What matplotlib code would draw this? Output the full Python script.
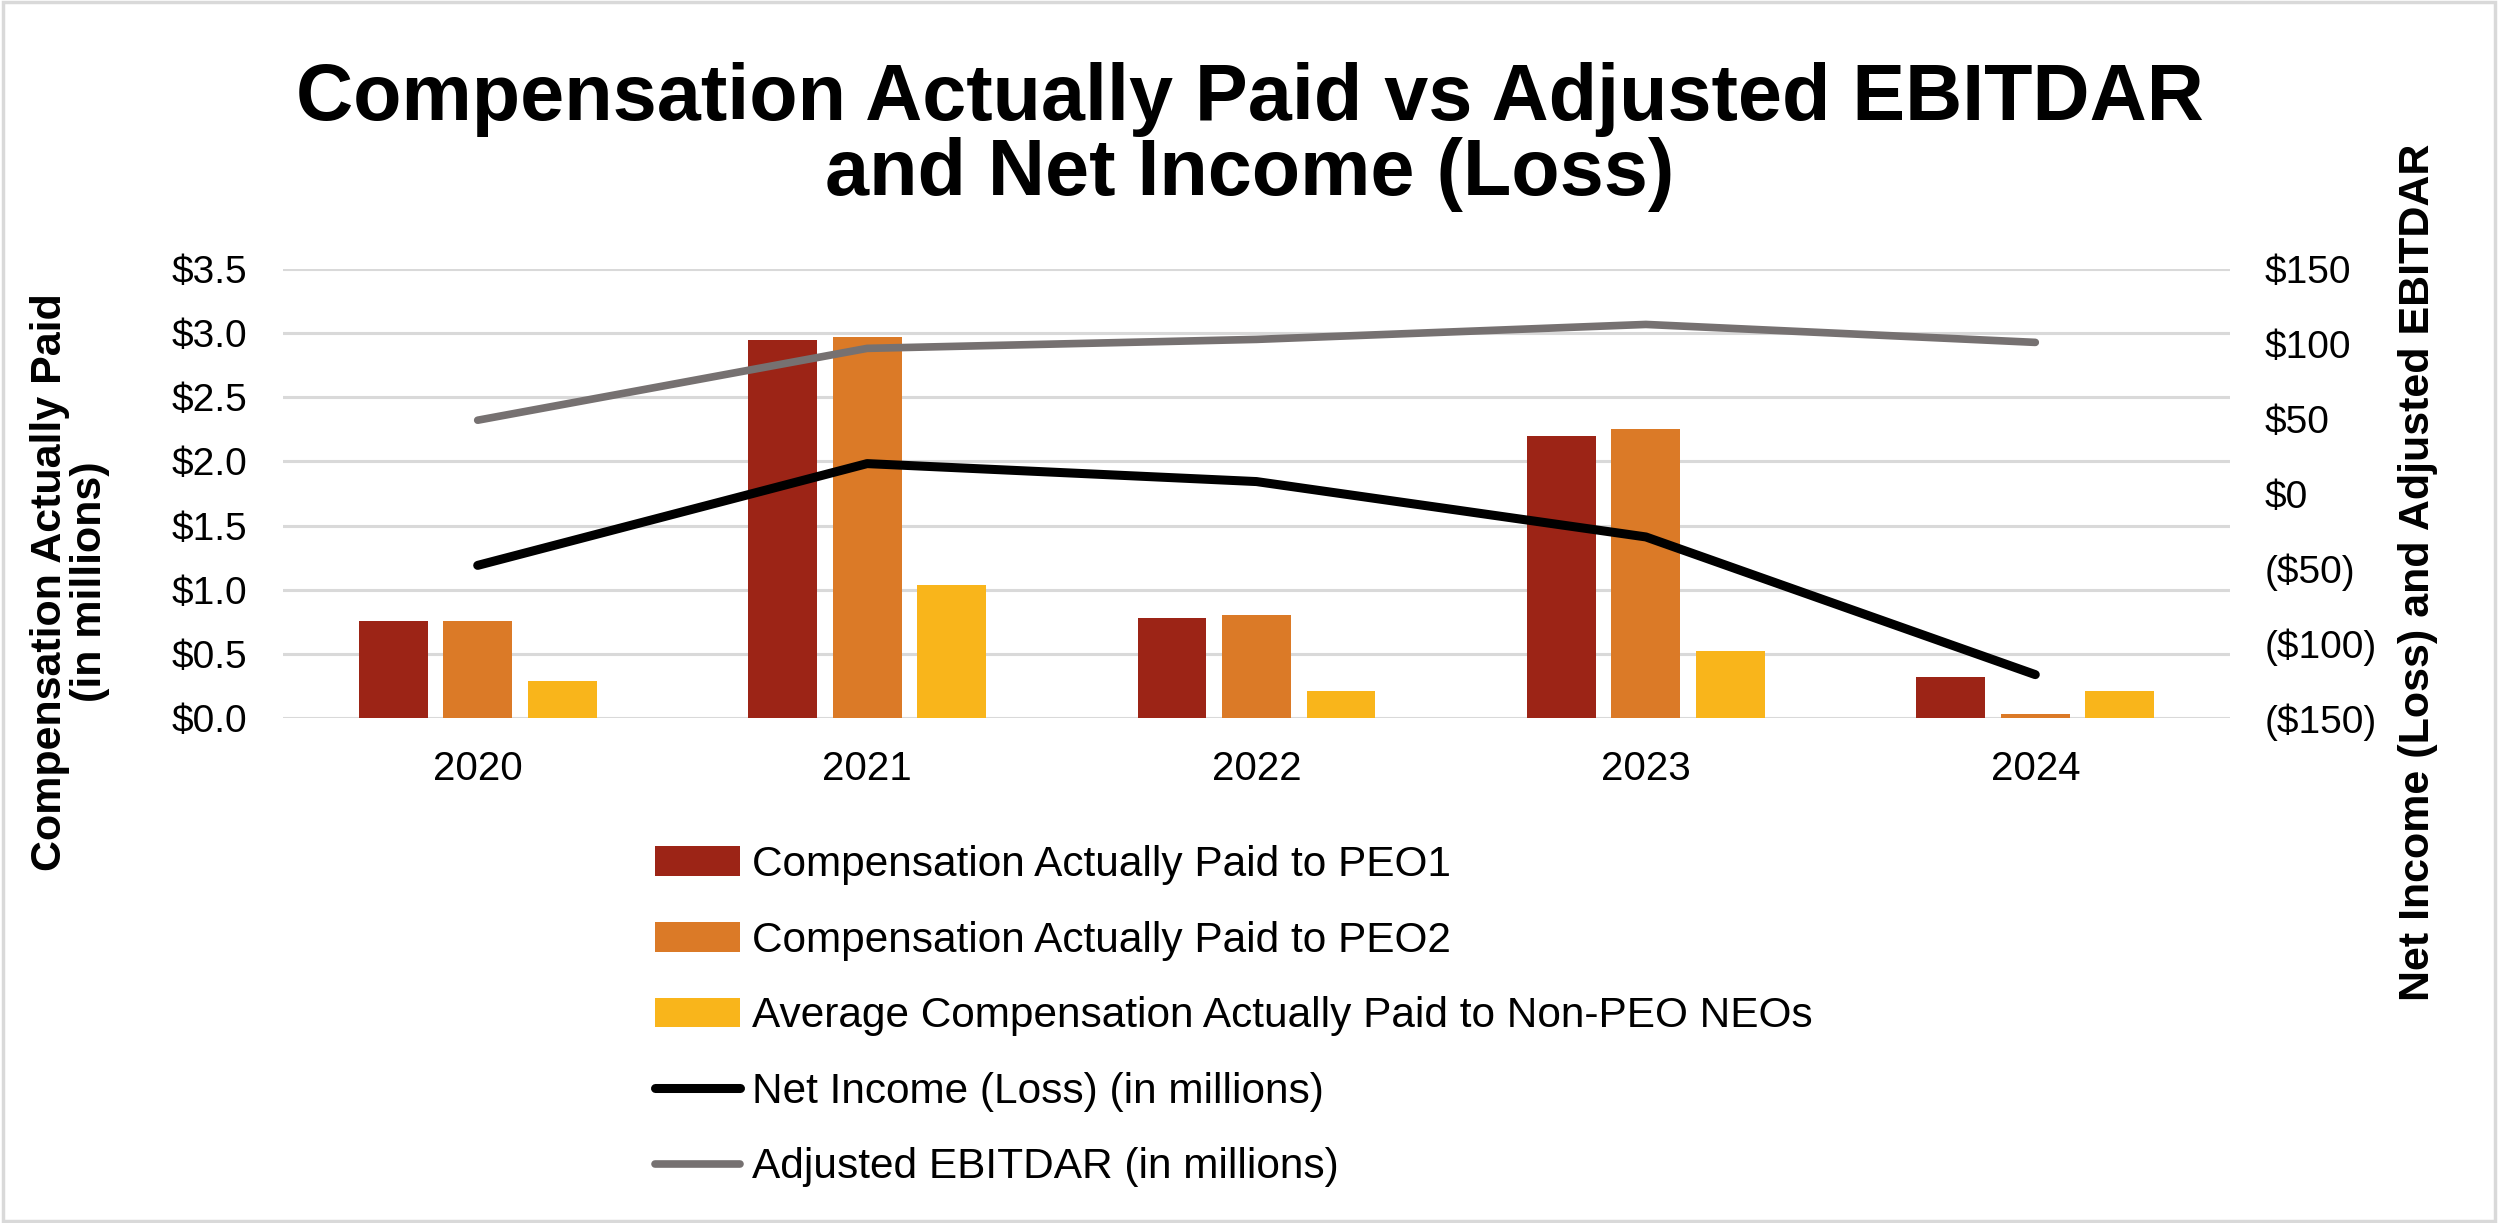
import matplotlib
matplotlib.use("Agg")
import matplotlib.pyplot as plt
import numpy as np
from matplotlib.ticker import FuncFormatter
from matplotlib.patches import Rectangle

plt.rcParams['font.family'] = ['Liberation Sans', 'DejaVu Sans']

years = ['2020', '2021', '2022', '2023', '2024']
cap_peo1 = [0.76, 2.95, 0.78, 2.20, 0.32]
cap_peo2 = [0.76, 2.97, 0.80, 2.25, 0.03]
cap_neo = [0.29, 1.04, 0.21, 0.525, 0.21]
net_income = [-48, 20, 8, -29, -121]
ebitdar = [49, 97, 103, 113, 101]

c_peo1 = '#9C2416'
c_peo2 = '#DB7A27'
c_neo = '#F9B51B'
c_ni = '#000000'
c_eb = '#767171'

fig = plt.figure(figsize=(25, 12.23), dpi=100)
ax = fig.add_axes([0.1132, 0.4129, 0.7788, 0.3671])
ax2 = ax.twinx()

x = np.arange(len(years))
w = 0.177
step = 0.217
b1 = ax.bar(x - step, cap_peo1, w, color=c_peo1, label='Compensation Actually Paid to PEO1', zorder=3)
b2 = ax.bar(x, cap_peo2, w, color=c_peo2, label='Compensation Actually Paid to PEO2', zorder=3)
b3 = ax.bar(x + step, cap_neo, w, color=c_neo, label='Average Compensation Actually Paid to Non-PEO NEOs', zorder=3)

l1, = ax2.plot(x, net_income, color=c_ni, lw=6.5, solid_capstyle='round', solid_joinstyle='round',
               label='Net Income (Loss) (in millions)')
l2, = ax2.plot(x, ebitdar, color=c_eb, lw=5.5, solid_capstyle='round', solid_joinstyle='round',
               label='Adjusted EBITDAR (in millions)')

ax.set_xlim(-0.5, 4.5)
ax.set_ylim(0, 3.5)
ax.set_yticks(np.arange(0, 3.51, 0.5))
ax.yaxis.set_major_formatter(FuncFormatter(lambda v, p: '${:.1f}'.format(v)))
ax2.set_ylim(-150, 150)
ax2.set_yticks(np.arange(-150, 151, 50))
ax2.yaxis.set_major_formatter(FuncFormatter(lambda v, p: '${:.0f}'.format(v) if v >= 0 else '(${:.0f})'.format(-v)))

ax.set_xticks(x)
ax.set_xticklabels(years)
ax.grid(axis='y', color='#D9D9D9', lw=2.2, zorder=0)
ax.set_axisbelow(True)
for a in (ax, ax2):
    for s in a.spines.values():
        s.set_visible(False)
ax.tick_params(axis='both', length=0)
ax.tick_params(axis='y', labelsize=28, pad=26)
ax.tick_params(axis='x', labelsize=29, pad=23)
ax2.tick_params(axis='y', length=0, labelsize=28, pad=25)

fig.text(0.5, 0.919, 'Compensation Actually Paid vs Adjusted EBITDAR', ha='center', va='center',
         fontsize=57, fontweight='bold')
fig.text(0.5, 0.857, 'and Net Income (Loss)', ha='center', va='center',
         fontsize=57, fontweight='bold')

fig.text(0.020, 0.524, 'Compensation Actually Paid', rotation=90, ha='center', va='center',
         fontsize=31, fontweight='bold')
fig.text(0.036, 0.524, '(in millions)', rotation=90, ha='center', va='center',
         fontsize=31, fontweight='bold')
fig.text(0.967, 0.532, 'Net Income (Loss) and Adjusted EBITDAR', rotation=90, ha='center', va='center',
         fontsize=31, fontweight='bold')

fig.legend(handles=[b1, b2, b3, l1, l2], loc='upper left', bbox_to_anchor=(0.262, 0.309),
           frameon=False, fontsize=30.5, handlelength=2.0, handletextpad=0.28, labelspacing=0.84,
           borderpad=0, borderaxespad=0)

fig.patches.append(Rectangle((0.001, 0.002), 0.997, 0.996, transform=fig.transFigure,
                             fill=False, edgecolor='#D9D9D9', lw=2.5))

fig.savefig('out.png', dpi=100)
